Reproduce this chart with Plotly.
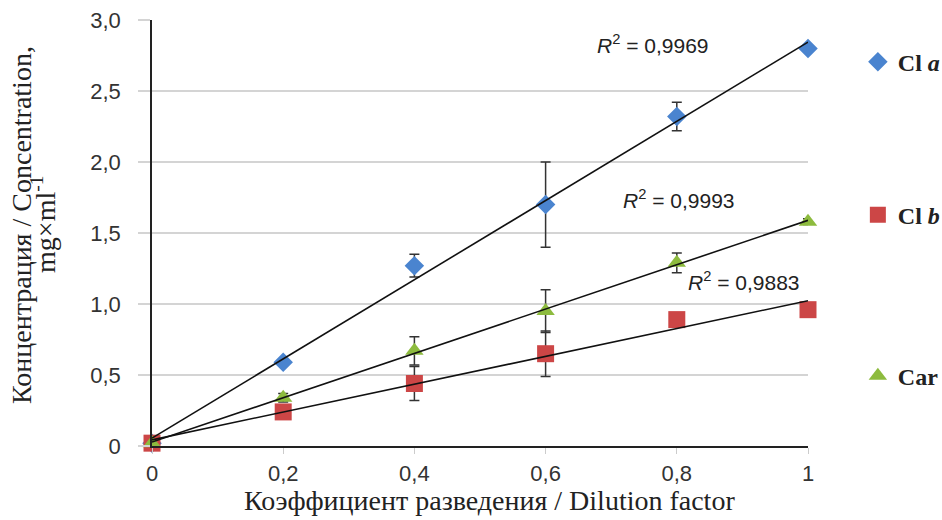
import numpy as np
import plotly.graph_objects as go

# Data
x_vals = [0, 0.2, 0.4, 0.6, 0.8, 1.0]
cla = [0.02, 0.59, 1.27, 1.70, 2.32, 2.80]
cla_err = [0.01, 0.02, 0.08, 0.30, 0.10, 0.02]
clb = [0.02, 0.24, 0.44, 0.65, 0.89, 0.96]
clb_err = [0.01, 0.02, 0.12, 0.16, 0.02, 0.02]
car = [0.02, 0.34, 0.67, 0.95, 1.29, 1.58]
car_err = [0.01, 0.03, 0.10, 0.15, 0.07, 0.02]
r2_labels = ["0,9969", "0,9993", "0,9883"]
y_ticks = [0, 0.5, 1.0, 1.5, 2.0, 2.5, 3.0]
y_ticktext = ["0", "0,5", "1,0", "1,5", "2,0", "2,5", "3,0"]
x_ticks = [0, 0.2, 0.4, 0.6, 0.8, 1.0]
x_ticktext = ["0", "0,2", "0,4", "0,6", "0,8", "1"]

series = [
    ("<b>Cl <i>a</i></b>", cla, cla_err, "#4A84CF", "diamond", 15, "legend"),
    ("<b>Cl <i>b</i></b>", clb, clb_err, "#CC4646", "square", 17, "legend2"),
    ("<b>Car</b>", car, car_err, "#8DBB3E", "triangle-up", 16, "legend3"),
]

fig = go.Figure()
for name, ys, err, col, sym, size, leg in series:
    fig.add_trace(go.Scatter(
        x=x_vals, y=ys, mode="markers", name=name, legend=leg,
        marker=dict(color=col, symbol=sym, size=size),
        error_y=dict(type="data", array=err, color="#333333", thickness=1.5, width=5),
        cliponaxis=False,
    ))

# Linear trendlines computed from data
xa = np.array(x_vals)
for name, ys, err, col, sym, size, leg in series:
    k, b = np.polyfit(xa, np.array(ys), 1)
    xl = [xa.min(), xa.max()]
    fig.add_trace(go.Scatter(
        x=xl, y=[k * v + b for v in xl], mode="lines",
        line=dict(color="#111111", width=1.6), showlegend=False,
        hoverinfo="skip", cliponaxis=False,
    ))

ann_pos = [(0.764, 2.83), (0.804, 1.74), (0.902, 1.165)]
for (ax_, ay_), lab in zip(ann_pos, r2_labels):
    fig.add_annotation(x=ax_, y=ay_, xref="x", yref="y", showarrow=False,
                       xanchor="center", yanchor="middle",
                       text=f"<i>R</i><sup>2</sup> = {lab}",
                       font=dict(family="Liberation Sans", size=21, color="#222222"))

title_font = dict(family="Liberation Serif", size=28, color="#222222")
fig.add_annotation(x=-0.198, y=0.519, xref="paper", yref="paper", showarrow=False,
                   xanchor="center", yanchor="middle",
                   textangle=-90, text="Концентрация / Concentration,", font=title_font)
fig.add_annotation(x=-0.1646, y=0.519, xref="paper", yref="paper", showarrow=False,
                   xanchor="center", yanchor="middle",
                   textangle=-90, text="mg×ml<sup>-1</sup>", font=title_font)
fig.add_annotation(x=0.515, y=-0.129, xref="paper", yref="paper", showarrow=False,
                   xanchor="center", yanchor="middle",
                   text="Коэффициент разведения / Dilution factor", font=title_font)

leg_common = dict(xanchor="left", yanchor="middle", bgcolor="rgba(0,0,0,0)",
                  font=dict(family="Liberation Serif", size=24, color="#222222"))
tick_font = dict(family="Liberation Sans Narrow, Liberation Sans", size=22, color="#333333")
fig.update_layout(
    width=942, height=520,
    margin=dict(l=152, r=134, t=20, b=74, autoexpand=False),
    plot_bgcolor="white", paper_bgcolor="white",
    legend=dict(x=1.076, y=0.901, **leg_common),
    legend2=dict(x=1.076, y=0.542, **leg_common),
    legend3=dict(x=1.076, y=0.164, **leg_common),
    xaxis=dict(range=[0, 1], tickvals=x_ticks, ticktext=x_ticktext,
               showgrid=False, zeroline=False, showline=True, linecolor="#222222",
               linewidth=1.5, ticks="outside", ticklen=6, tickcolor="#cccccc",
               ticklabelstandoff=1, tickfont=tick_font),
    yaxis=dict(range=[0, 3.0], tickvals=y_ticks, ticktext=y_ticktext,
               showgrid=True, gridcolor="#d4d4d4", gridwidth=1.5, zeroline=False,
               showline=True, linecolor="#222222", linewidth=1.5,
               ticks="outside", ticklen=12, tickcolor="#d4d4d4", tickwidth=1.5,
               ticklabelstandoff=13, tickfont=tick_font),
)

fig.write_html("out.html", config={"displayModeBar": False},
               post_script="document.body.style.margin='0';")
